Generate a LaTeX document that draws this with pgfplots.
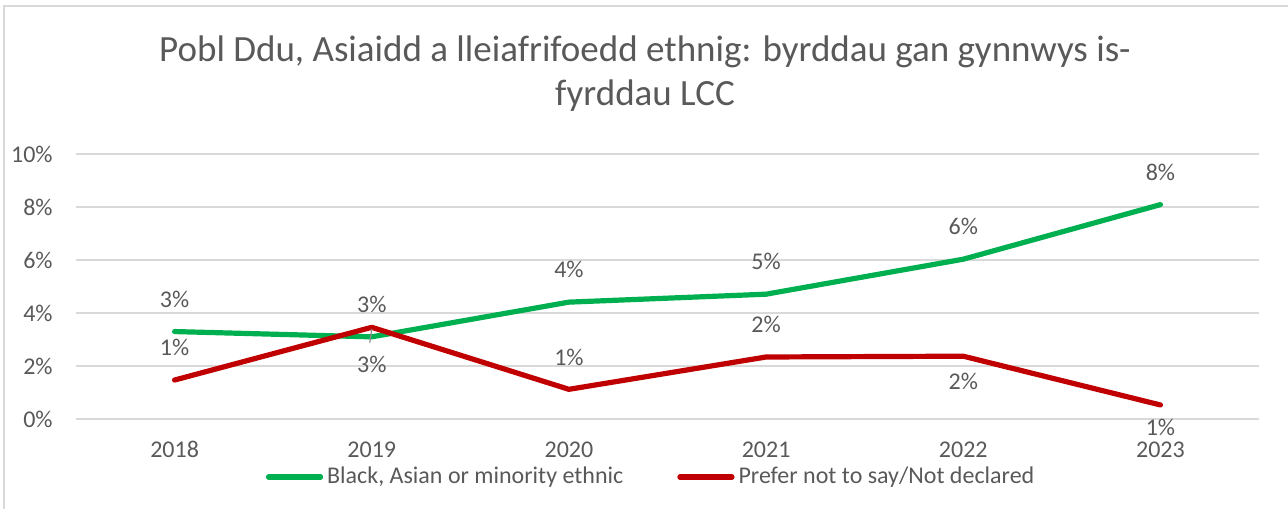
\documentclass[border=0pt]{standalone}
\usepackage{pgfplots}
\pgfplotsset{compat=1.18}
\usepackage{pgfplotstable}
\usepackage{fontspec}
\setmainfont{Carlito}

\definecolor{txtgray}{HTML}{595959}
\definecolor{gridgray}{HTML}{D9D9D9}
\definecolor{bamegreen}{HTML}{00B050}
\definecolor{pnsred}{HTML}{C00000}

% x = year index (2018..2023), y = percent, s = label shift (pt)
\pgfplotstableread{
x y s
0 3.30 16.2
1 3.10 -14
2 4.41 16.2
3 4.71 16.2
4 6.03 16.2
5 8.09 16.2
}\bame

\pgfplotstableread{
x y s
0 1.47 16.2
1 3.46 11.5
2 1.12 16.2
3 2.34 16.2
4 2.37 -12.8
5 0.53 -11.3
}\notsaid

\pgfplotsset{
    pctlabels/.style={
            nodes near coords={\pgfmathprintnumber[fixed,precision=0]{\pgfplotspointmeta}\%},
            visualization depends on={\thisrow{s} \as \lshift},
            nodes near coords style={anchor=center, inner sep=0pt, yshift=\lshift pt,
                    text=txtgray, font=\fontsize{12}{14}\selectfont},
        },
}

\begin{document}
\begin{tikzpicture}
    \useasboundingbox (0,0) rectangle (644pt,254.5pt);
    \draw[gridgray, line width=1pt] (2pt,0) -- (2pt,251.5pt) -- (644pt,251.5pt);

    \node[anchor=base, text=txtgray, font=\fontsize{18.5}{22}\selectfont, inner sep=0pt]
        at (322.5pt,223.5pt) {Pobl Ddu, Asiaidd a lleiafrifoedd ethnig: byrddau gan gynnwys is-};
    \node[anchor=base, text=txtgray, font=\fontsize{18.5}{22}\selectfont, inner sep=0pt]
        at (322.5pt,201.5pt) {fyrddau LCC};

    \begin{axis}[
            at={(38pt,45pt)},
            anchor=south west,
            scale only axis,
            width=591.5pt,
            height=132.5pt,
            xmin=-0.5, xmax=5.5,
            ymin=0, ymax=10,
            xtick={0,...,5},
            xticklabels={2018,2019,2020,2021,2022,2023},
            ytick={0,2,...,10},
            yticklabel={\pgfmathprintnumber{\tick}\%},
            /pgf/number format/assume math mode=true,
            axis line style={draw=none},
            major tick length=0pt,
            ymajorgrids,
            grid style={gridgray, line width=1pt},
            tick label style={text=txtgray, font=\fontsize{12}{14}\selectfont},
            xticklabel style={anchor=center, inner sep=0pt, yshift=-15.25pt},
            yticklabel style={anchor=east, inner sep=0pt, xshift=-11.5pt},
            clip=false,
            legend columns=2,
            legend style={
                    at={([yshift=-29pt]axis description cs:0.487,0)},
                    anchor=center,
                    draw=none,
                    fill=none,
                    font=\fontsize{12}{14}\selectfont,
                    text=txtgray,
                    inner sep=0pt,
                    /tikz/every even column/.append style={column sep=25pt},
                },
            legend image code/.code={
                    \draw[#1, line width=2.6pt, line cap=round] (0pt,0pt) -- (26pt,0pt);
                },
        ]
        \addplot[bamegreen, line width=2.6pt, line cap=round, line join=round, pctlabels]
            table[x=x, y=y, meta=y] {\bame};
        \addlegendentry{Black, Asian or minority ethnic}
        \addplot[pnsred, line width=2.6pt, line cap=round, line join=round, pctlabels]
            table[x=x, y=y, meta=y] {\notsaid};
        \addlegendentry{Prefer not to say/Not declared}
        \draw[black!45, line width=0.6pt] (axis cs:0.99,2.88) -- (axis cs:1.0,3.4);
    \end{axis}
\end{tikzpicture}
\end{document}
